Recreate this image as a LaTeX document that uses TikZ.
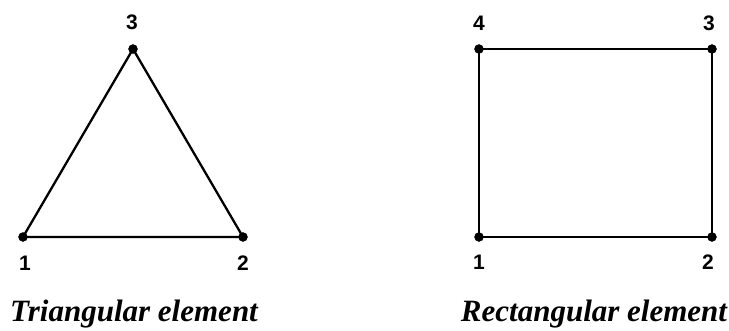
\documentclass[tikz,border=0pt]{standalone}
\usepackage{fontspec}
\setmainfont{Liberation Serif}
\newfontfamily\labfont{Liberation Sans}
\begin{document}
\begin{tikzpicture}[x=1pt,y=-1pt,
  vtx/.style={circle,fill=black,draw=black,inner sep=0pt,minimum size=9pt},
  edge/.style={line width=2.3pt},
  num/.style={font=\labfont\bfseries\fontsize{21}{23}\selectfont,inner sep=0pt},
  captxt/.style={font=\bfseries\itshape\fontsize{31}{34}\selectfont,inner sep=0pt}]
\useasboundingbox (0,0) rectangle (729,330);
% triangle
\node[vtx] (t1) at (23,237) {};
\node[vtx] (t2) at (243,237) {};
\node[vtx] (t3) at (133,49) {};
\draw[edge] (t1.center) -- (t2.center) -- (t3.center) -- cycle;
\node[num] (lt3) at (132,22) {3};
\node[num] (lt1) at (25,263) {1};
\node[num] (lt2) at (243,263) {2};
\node[captxt] (ct) at (134,314) {Triangular element};
% rectangle
\node[vtx] (r1) at (479,237) {};
\node[vtx] (r2) at (712,237) {};
\node[vtx] (r3) at (712,49) {};
\node[vtx] (r4) at (479,49) {};
\draw[edge] (r1.center) -- (r2.center) -- (r3.center) -- (r4.center) -- cycle;
\node[num] (lr4) at (479,23) {4};
\node[num] (lr3) at (709,23) {3};
\node[num] (lr1) at (479,262) {1};
\node[num] (lr2) at (708,262) {2};
\node[captxt] (cr) at (594,314) {Rectangular element};
\end{tikzpicture}
\end{document}
